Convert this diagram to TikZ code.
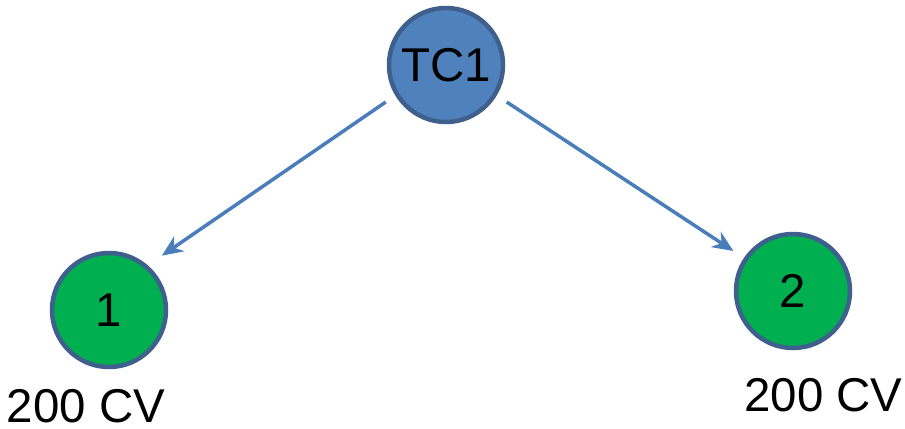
\documentclass[tikz,border=0pt]{standalone}
\usepackage{fontspec}
\setmainfont{Liberation Sans}
\usetikzlibrary{arrows.meta}
\begin{document}
\begin{tikzpicture}
  \def\px{0.02}
  \definecolor{tcblue}{HTML}{4F81BD}
  \definecolor{rimblue}{HTML}{3F5F8C}
  \definecolor{unitgreen}{HTML}{00B050}
  \definecolor{linkblue}{HTML}{4A7EBB}
  \tikzset{
    station/.style={circle, draw=rimblue, line width={4.5*\px cm},
      minimum size={114*\px cm}, inner sep=0pt,
      font=\fontsize{27}{32}\selectfont},
    rating/.style={inner sep=0pt, font=\fontsize{27}{32}\selectfont},
    link/.style={-{Stealth[length={21*\px cm}, width={18*\px cm}]},
      linkblue, line width={3.5*\px cm}},
  }
  \useasboundingbox (0,0) rectangle ({905*\px},{-428*\px});

  %--- controller and the two units ---
  \node[station, fill=tcblue]    (tc) at ({446*\px},{-65*\px})  {TC1};
  \node[station, fill=unitgreen] (n1) at ({109*\px},{-310*\px}) {1};
  \node[station, fill=unitgreen] (n2) at ({793*\px},{-291*\px}) {2};

  %--- ratings ---
  \node[rating] (lab1) at ({86*\px},{-406*\px})  {200 CV};
  \node[rating] (lab2) at ({823.5*\px},{-395.5*\px}) {200 CV};

  %--- links ---
  \draw[link, shorten <={11.5*\px cm}, shorten >={17*\px cm}] (tc.211) -- (n1.49);
  \draw[link, shorten <={12*\px cm}, shorten >={12.5*\px cm}] (tc.329.5) -- (n2.146);

\end{tikzpicture}
\end{document}
